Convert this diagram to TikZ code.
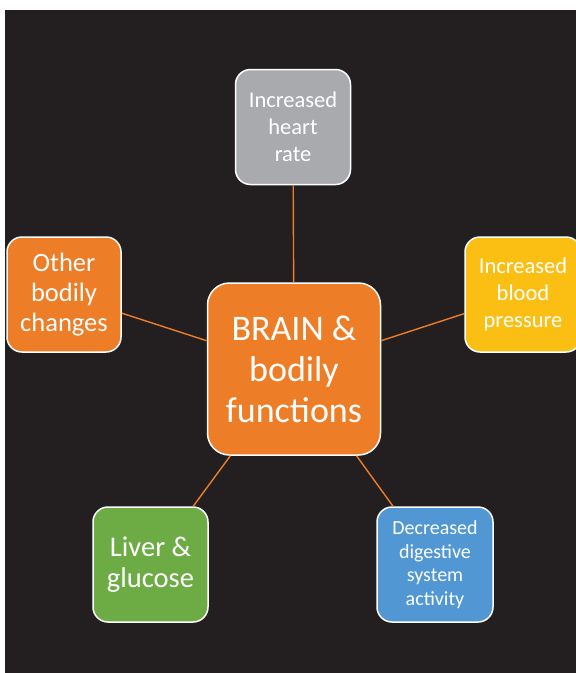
\documentclass[tikz,border=0pt]{standalone}
\usepackage{fontspec}
\setmainfont{Carlito}
\definecolor{bg}{HTML}{231F20}
\definecolor{corange}{HTML}{ED7D27}
\definecolor{cgray}{HTML}{A9AAAD}
\definecolor{cyellow}{HTML}{FBBF14}
\definecolor{cblue}{HTML}{5197D3}
\definecolor{cgreen}{HTML}{6DAB45}
\tikzset{
  box/.style={draw=white, line width=1.5pt, rounded corners=15pt, minimum width=115pt, minimum height=115pt, text=white, align=center, inner sep=0pt},
  link/.style={draw=corange, line width=1.4pt}
}
\begin{document}
\begin{tikzpicture}[x=1pt,y=-1pt]
\useasboundingbox (0,0) rectangle (576,673);
\fill[white] (0,0) rectangle (576,673);
\clip (0,0) rectangle (576,673);
\fill[bg] (5,10) rectangle (577,674);
\node[box, fill=corange, minimum width=173pt, minimum height=172pt, rounded corners=22pt,
  font=\fontsize{36}{41}\selectfont] (brain) at (294,369) {BRAIN \&\\bodily\\functions};
\node[box, fill=cgray, font=\fontsize{22.5}{27}\selectfont] (heart) at (293,127) {Increased\\heart\\rate};
\node[box, fill=cyellow, minimum width=116pt, font=\fontsize{22.5}{27}\selectfont] (blood) at (523,294.5) {Increased\\blood\\pressure};
\node[box, fill=corange, minimum width=114pt, font=\fontsize{26.5}{30}\selectfont] (other) at (64,294.5) {Other\\bodily\\changes};
\node[box, fill=cgreen, font=\fontsize{28.5}{31}\selectfont] (liver) at (150.5,564.5) {Liver \&\\glucose};
\node[box, fill=cblue, minimum width=116pt, font=\fontsize{20}{23.5}\selectfont] (digest) at (435,564.5) {Decreased\\digestive\\system\\activity};
\path[link] (brain) -- (heart);
\path[link] (brain) -- (blood);
\path[link] (brain) -- (other);
\path[link] (brain) -- (liver);
\path[link] (brain) -- (digest);
\end{tikzpicture}
\end{document}
